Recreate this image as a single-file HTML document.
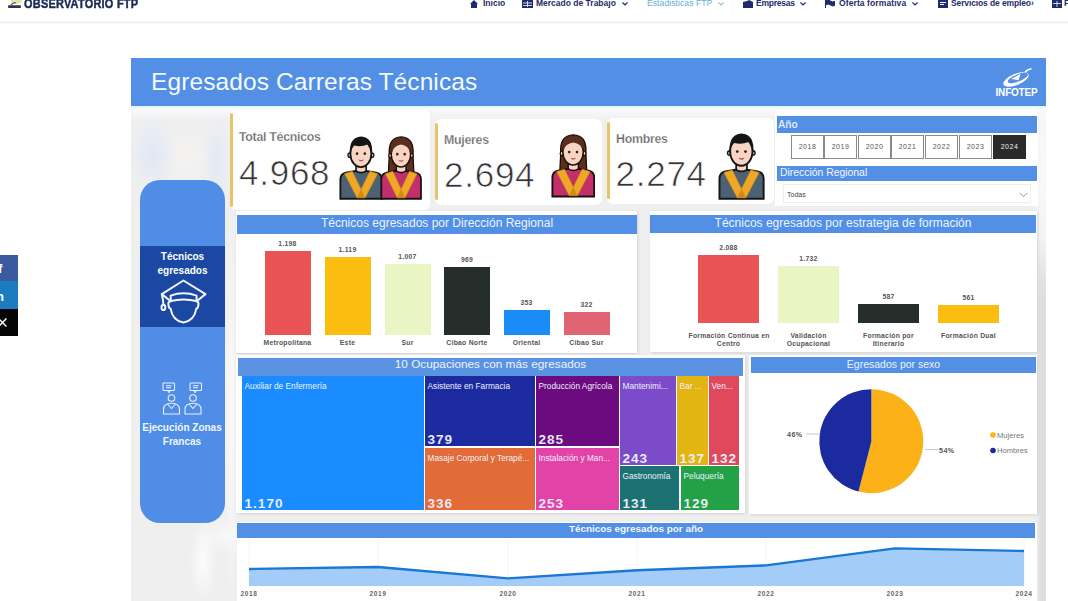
<!DOCTYPE html>
<html><head><meta charset="utf-8">
<style>
*{margin:0;padding:0;box-sizing:border-box}
html,body{width:1068px;height:601px;overflow:hidden;background:#fff;font-family:"Liberation Sans",sans-serif}
.a{position:absolute;line-height:1;white-space:nowrap}
.nav{color:#1f2b6e;font-weight:bold;font-size:8.5px;letter-spacing:0}
.hdr{position:absolute;background:#528fe5;color:#fff;text-align:center;white-space:nowrap;overflow:hidden}
.panel{position:absolute;background:#fff}
.bar{position:absolute}
.bl{position:absolute;font-size:6.8px;font-weight:bold;color:#555;text-align:center;line-height:1;white-space:nowrap;letter-spacing:0.25px}
.tile{position:absolute;overflow:hidden}
.tt{position:absolute;left:2.5px;top:5.5px;font-size:8.3px;color:#eef0ff;white-space:nowrap;line-height:1}
.tv{position:absolute;left:2.5px;bottom:-0.8px;font-size:13.6px;font-weight:bold;color:#eef2ff;line-height:1;letter-spacing:1px}
.yb{position:absolute;top:135px;height:24px;width:33px;border:1px solid #8a8a8a;background:#fff;font-size:7px;color:#555;text-align:center;line-height:22px;letter-spacing:0.5px}
</style></head>
<body>
<svg width="0" height="0" style="position:absolute">
<defs>
<symbol id="man" viewBox="0 0 48 68" preserveAspectRatio="none">
<path d="M1.5 66.5 V46.5 Q1.5 40.5 7.5 39.3 L18 37.5 H29.5 L40.5 39.3 Q46.5 40.5 46.5 46.5 V66.5 Z" fill="#4a6273" stroke="#151515" stroke-width="2"/>
<path d="M6 40.3 L14.5 37.8 L24 56.5 L33.5 37.8 L42 40.3 L28.5 65.5 H19.5 Z" fill="#eea726" stroke="#c98812" stroke-width="0.6"/>
<path d="M19.5 65.5 L24 56.5 L28.5 65.5 Z" fill="#d08a18"/>
<path d="M18.5 30 V37.5 Q24 41 29.5 37.5 V30 Z" fill="#f8d4c4" stroke="#151515" stroke-width="1.8"/>
<circle cx="12" cy="21" r="2.3" fill="#f8d4c4" stroke="#151515" stroke-width="1.4"/>
<circle cx="35.5" cy="21" r="2.3" fill="#f8d4c4" stroke="#151515" stroke-width="1.4"/>
<ellipse cx="23.75" cy="19.5" rx="11.4" ry="14" fill="#f8d4c4" stroke="#151515" stroke-width="2"/>
<path d="M12 20.5 Q10.3 2.5 24 1.5 Q37.7 2.5 35.8 20.5 Q35 12.5 31 10 Q24 13 16.5 11 Q13 13.5 12 20.5 Z" fill="#151515"/>
<circle cx="19.6" cy="19.5" r="1.4" fill="#3a1a10"/><circle cx="28" cy="19.5" r="1.4" fill="#3a1a10"/>
<path d="M21.5 26 Q24 28.2 26.5 26" stroke="#a04848" stroke-width="1" fill="#e37b7b"/>
</symbol>
<symbol id="woman" viewBox="0 0 48 68" preserveAspectRatio="none">
<path d="M10.5 21 Q9 2.5 24 2 Q39 2.5 37.5 21 L38.5 40 H9.5 Z" fill="#5b2f1e" stroke="#1e0c06" stroke-width="1.4"/>
<path d="M1.5 66.5 V46.5 Q1.5 40.5 7.5 39.3 L18 37.5 H29.5 L40.5 39.3 Q46.5 40.5 46.5 46.5 V66.5 Z" fill="#c2306b" stroke="#1a1010" stroke-width="2"/>
<path d="M6 40.3 L14.5 37.8 L24 56.5 L33.5 37.8 L42 40.3 L28.5 65.5 H19.5 Z" fill="#eea726" stroke="#c98812" stroke-width="0.6"/>
<path d="M19.5 65.5 L24 56.5 L28.5 65.5 Z" fill="#d08a18"/>
<path d="M18.5 30 V37.5 Q24 41 29.5 37.5 V30 Z" fill="#f8d4c4" stroke="#1e0c06" stroke-width="1.6"/>
<circle cx="12" cy="21.5" r="2.1" fill="#f8d4c4" stroke="#1e0c06" stroke-width="1.2"/>
<circle cx="35.5" cy="21.5" r="2.1" fill="#f8d4c4" stroke="#1e0c06" stroke-width="1.2"/>
<ellipse cx="23.75" cy="20" rx="11" ry="13.4" fill="#f8d4c4" stroke="#1e0c06" stroke-width="1.6"/>
<path d="M12.8 20 Q12 4.5 24 4 Q36 4.5 34.8 20 Q33 11 24 10 Q15 11 12.8 20 Z" fill="#5b2f1e"/>
<circle cx="19.6" cy="20" r="1.4" fill="#3a1a10"/><circle cx="28" cy="20" r="1.4" fill="#3a1a10"/>
<path d="M21.5 26.5 Q24 28.5 26.5 26.5" stroke="#a04848" stroke-width="1" fill="#e37b7b"/>
</symbol>
</defs></svg>
<!-- NAV -->
<div class="a" style="left:0;top:21px;width:1068px;height:3px;background:linear-gradient(#f6f6f6,#f0f0f0 50%,#f8f8f8)"></div>
<svg class="a" style="left:7px;top:0" width="16" height="9" viewBox="0 0 16 9">
<ellipse cx="9.5" cy="1.2" rx="5.5" ry="2.6" fill="#e6e3a8"/>
<path d="M4 5 Q6 2.5 9 2.8" stroke="#3a4260" stroke-width="1.2" fill="none"/>
<rect x="1" y="5.3" width="13" height="2.6" rx="1" fill="#2c3552"/>
</svg>
<div class="a" style="left:24px;top:-3px;font-size:13px;font-weight:bold;color:#1c2a55;letter-spacing:0.3px;transform:scaleX(0.84);transform-origin:0 0;-webkit-text-stroke:0.5px #1c2a55">OBSERVATORIO FTP</div>

<svg class="a" style="left:470px;top:0" width="8" height="8" viewBox="0 0 8 8"><path d="M0 4 L4 0 L8 4 L7 4 L7 8 L1 8 L1 4Z" fill="#1f2b6e"/></svg>
<div class="a nav" style="left:483px;top:-0.9px">Inicio</div>
<svg class="a" style="left:522px;top:0" width="11" height="8" viewBox="0 0 11 8"><rect x="0" y="0" width="11" height="8" fill="#1f2b6e"/><path d="M1 3H10M1 5.5H10M5.5 1V7" stroke="#fff" stroke-width="0.8"/></svg>
<div class="a nav" style="left:536px;top:-0.9px;letter-spacing:0">Mercado de Trabajo</div>
<svg class="a" style="left:622px;top:1.5px" width="6" height="4" viewBox="0 0 6 4"><path d="M0.5 0.5L3 3L5.5 0.5" stroke="#1f2b6e" stroke-width="1.2" fill="none"/></svg>
<div class="a nav" style="left:647px;top:-0.9px;color:#5fb0d6;font-weight:normal;letter-spacing:0.1px">Estadisticas FTP</div>
<svg class="a" style="left:718px;top:1.5px" width="6" height="4" viewBox="0 0 6 4"><path d="M0.5 0.5L3 3L5.5 0.5" stroke="#8cc4e0" stroke-width="1.2" fill="none"/></svg>
<svg class="a" style="left:743px;top:0" width="10" height="8" viewBox="0 0 10 8"><path d="M0 2 L4 1 L6 0 L10 2 L10 8 L0 8Z" fill="#1f2b6e"/></svg>
<div class="a nav" style="left:756px;top:-0.9px;letter-spacing:-0.22px">Empresas</div>
<svg class="a" style="left:800px;top:1.5px" width="6" height="4" viewBox="0 0 6 4"><path d="M0.5 0.5L3 3L5.5 0.5" stroke="#1f2b6e" stroke-width="1.2" fill="none"/></svg>
<svg class="a" style="left:825px;top:0" width="10" height="8" viewBox="0 0 10 8"><path d="M0.5 0V8M1 0.5 Q4 -0.5 5.5 1 Q7 2.5 10 1.5 V5.5 Q7 6.5 5.5 5 Q4 3.5 1 4.5Z" stroke="#1f2b6e" fill="#1f2b6e"/></svg>
<div class="a nav" style="left:839px;top:-0.9px;letter-spacing:0.1px">Oferta formativa</div>
<svg class="a" style="left:912px;top:1.5px" width="6" height="4" viewBox="0 0 6 4"><path d="M0.5 0.5L3 3L5.5 0.5" stroke="#1f2b6e" stroke-width="1.2" fill="none"/></svg>
<svg class="a" style="left:938px;top:0" width="10" height="8" viewBox="0 0 10 8"><rect x="0" y="0" width="10" height="8" fill="#1f2b6e"/><rect x="2" y="2" width="6" height="1" fill="#fff"/><rect x="2" y="4" width="4" height="1" fill="#fff"/></svg>
<div class="a nav" style="left:951px;top:-0.9px;letter-spacing:-0.12px">Servicios de empleo›</div>
<svg class="a" style="left:1052px;top:0" width="10" height="8" viewBox="0 0 10 8"><rect x="0" y="0" width="10" height="8" fill="#1f2b6e"/><path d="M1 3.5H9M5 1V7" stroke="#fff" stroke-width="0.8"/></svg>
<div class="a nav" style="left:1064px;top:-0.9px">F</div>

<!-- SOCIAL -->
<div class="a" style="left:0;top:255px;width:18px;height:26px;background:#3b5aa0"></div>
<div class="a" style="left:0;top:281px;width:18px;height:28px;background:#1b7dc0"></div>
<div class="a" style="left:0;top:309px;width:18px;height:27px;background:#050505"></div>
<div class="a" style="left:-2px;top:262px;font-size:13px;font-weight:bold;color:#fff">f</div>
<div class="a" style="left:-7.5px;top:290px;font-size:13px;font-weight:bold;color:#fff">in</div>
<svg class="a" style="left:-2px;top:318px" width="9" height="9" viewBox="0 0 9 9"><path d="M0.5 0.5 L8.5 8.5 M8.5 0.5 L0.5 8.5" stroke="#fff" stroke-width="1.5"/></svg>

<!-- DASHBOARD BG -->
<div class="a" id="dash" style="left:131px;top:106px;width:915px;height:495px;background:
radial-gradient(ellipse 25px 40px at 22px 48px,rgba(222,231,245,0.9),rgba(222,231,245,0)),
radial-gradient(ellipse 15px 45px at 86px 55px,rgba(224,233,246,0.9),rgba(224,233,246,0)),
radial-gradient(ellipse 35px 25px at 55px 50px,rgba(245,243,240,1),rgba(245,243,240,0)),
radial-gradient(ellipse 14px 120px at 912px 60px,rgba(250,250,250,1),rgba(250,250,250,0)),
radial-gradient(ellipse 14px 40px at 72px 455px,rgba(252,252,252,1),rgba(252,252,252,0)),
radial-gradient(ellipse 30px 20px at 95px 430px,rgba(248,248,248,1),rgba(248,248,248,0)),
radial-gradient(ellipse 8px 200px at 100px 300px,rgba(250,250,250,1),rgba(250,250,250,0)),
#efeff0"></div>
<div class="hdr" style="left:131px;top:58px;width:915px;height:48px"></div>
<div class="a" style="left:1037px;top:240px;width:9px;height:361px;background:linear-gradient(to right,#ebebeb,#dadada 55%,#e0e0e0);-webkit-mask-image:linear-gradient(transparent,#000 60px)"></div>
<div class="a" style="left:131px;top:106px;width:915px;height:3px;background:linear-gradient(#dff4fb,#f4fbfd)"></div>
<div class="a" style="left:131px;top:109px;width:915px;height:12px;background:linear-gradient(#f8f9fa,rgba(248,249,250,0))"></div>
<div class="a" style="left:151px;top:70px;font-size:24.5px;color:#f4faff;letter-spacing:0.1px">Egresados Carreras Técnicas</div>



<svg class="a" style="left:993px;top:67px" width="48" height="30" viewBox="0 0 48 30">
<ellipse cx="23" cy="12.5" rx="13.5" ry="5.6" transform="rotate(-22 23 12.5)" fill="#fff"/>
<ellipse cx="24.8" cy="11" rx="10.8" ry="3.6" transform="rotate(-22 24.8 11)" fill="#528fe5"/>
<path d="M18 12 L27.5 7 L25.5 13.2 Z" fill="#fff"/>
<path d="M32 5 Q36 1.5 38.5 2" stroke="#fff" stroke-width="1.6" fill="none"/>
<text x="23.5" y="28.5" text-anchor="middle" font-family="Liberation Sans" font-weight="bold" font-size="10" fill="#fff" letter-spacing="-0.2">INFOTEP</text>
</svg>

<!-- SIDEBAR -->
<div class="a" style="left:140px;top:180px;width:85px;height:343px;background:#4f8de6;border-radius:20px"></div>
<div class="a" style="left:140px;top:246px;width:85px;height:81px;background:#1a48a2"></div>
<div class="a" style="left:140px;top:250px;width:85px;text-align:center;font-size:10px;font-weight:bold;color:#fff;line-height:14px">Técnicos<br>egresados</div>
<svg class="a" style="left:155px;top:275px" width="57" height="51" viewBox="0 0 57 51" fill="none" stroke="#f2f6ff" stroke-width="2" stroke-linejoin="round" stroke-linecap="round">
<path d="M15.7 26.3 L6.8 19.1 L28.4 5.5 L50.5 19.1 L41.6 26.3"/>
<path d="M15.7 26 V20.6 Q28.4 15.8 41.6 20.6 V26 Q28.4 22.8 15.7 26 Z"/>
<path d="M15.7 26.2 Q12.8 26.8 13.4 29.6 Q13.8 33.6 15.6 33.6 Q17.5 45.5 28.4 47.6 Q39.5 45.5 41.3 33.6 Q43.1 33.6 43.4 29.6 Q44 26.8 41.6 26.2"/>
<path d="M6.8 19.2 Q8.2 24.5 8.4 29.5"/>
<ellipse cx="8.4" cy="32.4" rx="1.9" ry="2.6"/>
</svg>
<svg class="a" style="left:160px;top:382px" width="44" height="34" viewBox="0 0 44 34" fill="none" stroke="#e8f0ff" stroke-width="1.1">
<rect x="3" y="1" width="11.5" height="7.5" rx="0.8"/><path d="M6 3.8H11.5M6 5.8H11"/><path d="M7.5 8.5 L9 10.5 L10.5 8.5"/>
<rect x="30" y="1" width="11.5" height="7.5" rx="0.8"/><path d="M33 3.8H38.5M33 5.8H38"/><path d="M33.5 8.5 L35 10.5 L36.5 8.5"/>
<circle cx="11.5" cy="16" r="3.3"/><path d="M3.5 32 V27.5 Q3.5 21.3 11.5 21.3 Q19.5 21.3 19.5 27.5 V32 Z"/><path d="M7.5 22 L11.5 26.5 L15.5 22"/>
<circle cx="33" cy="16" r="3.3"/><path d="M25 32 V27.5 Q25 21.3 33 21.3 Q41 21.3 41 27.5 V32 Z"/><path d="M29 22 L33 26.5 L37 22"/>
</svg>
<div class="a" style="left:139.5px;top:421px;width:85px;text-align:center;font-size:10px;font-weight:bold;color:#f0f6ff;line-height:13.5px;letter-spacing:0">Ejecución Zonas<br>Francas</div>

<!-- KPI CARDS -->
<div class="panel" style="left:230px;top:110px;width:200px;height:100px;border-radius:6px"></div>
<div class="a" style="left:230px;top:113px;width:3px;height:94px;background:#e7c46a;border-radius:2px"></div>
<div class="a" style="left:239px;top:131.2px;font-size:12.4px;letter-spacing:-0.3px;font-weight:bold;color:#666;-webkit-text-stroke:0.25px #fff">Total Técnicos</div>
<div class="a" style="left:239px;top:155.3px;font-size:35px;color:#333;letter-spacing:0.75px;-webkit-text-stroke:0.7px #fff">4.968</div>

<div class="panel" style="left:435px;top:119px;width:167px;height:86px;border-radius:6px"></div>
<div class="a" style="left:435px;top:123px;width:3px;height:77px;background:#e7c46a;border-radius:2px"></div>
<div class="a" style="left:444px;top:133.7px;font-size:12.4px;letter-spacing:-0.3px;font-weight:bold;color:#666;-webkit-text-stroke:0.25px #fff">Mujeres</div>
<div class="a" style="left:444px;top:157px;font-size:35px;color:#333;letter-spacing:0.75px;-webkit-text-stroke:0.7px #fff">2.694</div>

<div class="panel" style="left:607px;top:118px;width:167px;height:86px;border-radius:6px"></div>
<div class="a" style="left:607px;top:122px;width:3px;height:77px;background:#e7c46a;border-radius:2px"></div>
<div class="a" style="left:616px;top:132.6px;font-size:12.4px;letter-spacing:-0.3px;font-weight:bold;color:#666;-webkit-text-stroke:0.25px #fff">Hombres</div>
<div class="a" style="left:615.5px;top:156.3px;font-size:35px;color:#333;letter-spacing:0.75px;-webkit-text-stroke:0.7px #fff">2.274</div>


<!-- PEOPLE ICONS -->
<svg class="a" style="left:339px;top:134.6px" width="44.2" height="65.2"><use href="#man" width="44.2" height="65.2"/></svg>
<svg class="a" style="left:379.6px;top:134.6px" width="42.3" height="65.2"><use href="#woman" width="42.3" height="65.2"/></svg>
<svg class="a" style="left:550.8px;top:133.4px" width="44.6" height="65"><use href="#woman" width="44.6" height="65"/></svg>
<svg class="a" style="left:718px;top:132.2px" width="47.1" height="68.3"><use href="#man" width="47.1" height="68.3"/></svg>

<!-- FILTERS -->
<div class="panel" style="left:775px;top:110px;width:263px;height:96px"></div>
<div class="hdr" style="left:777px;top:116px;width:260px;height:17px;text-align:left"></div>
<div class="a" style="left:778px;top:119.6px;font-size:10.2px;font-weight:bold;color:#eef6ff;-webkit-text-stroke:0.2px #528fe5">Año</div>
<div class="yb" style="left:791px">2018</div>
<div class="yb" style="left:824px">2019</div>
<div class="yb" style="left:858px">2020</div>
<div class="yb" style="left:891px">2021</div>
<div class="yb" style="left:925px">2022</div>
<div class="yb" style="left:959px">2023</div>
<div class="yb" style="left:993px;background:#2a2a2a;border-color:#2a2a2a;color:#eee">2024</div>
<div class="hdr" style="left:777px;top:166px;width:260px;height:15px"></div>
<div class="a" style="left:780px;top:168px;font-size:10.4px;color:#f4f8ff">Dirección Regional</div>
<div class="a" style="left:783px;top:184px;width:248px;height:19px;border:1px solid #eee;background:#fff"></div>
<div class="a" style="left:787px;top:191px;font-size:7px;color:#444">Todas</div>
<svg class="a" style="left:1019px;top:192px" width="9" height="6" viewBox="0 0 9 6"><path d="M0.5 0.8L4.5 4.8L8.5 0.8" stroke="#999" stroke-width="1" fill="none"/></svg>

<!-- CHART 1 -->
<div class="panel" style="left:235.5px;top:210.5px;width:401.5px;height:142.5px;box-shadow:1px 1px 3px rgba(0,0,0,0.12)"></div>
<div class="hdr" style="left:237px;top:215px;width:400px;height:18.5px;font-size:12px;line-height:17px;color:#eaf4ff">Técnicos egresados por Dirección Regional</div>
<div class="bar" style="left:264.5px;top:251.0px;width:46px;height:84.0px;background:#e85454"></div>
<div class="bl" style="left:257.5px;width:60px;top:241.0px">1.198</div>
<div class="bl" style="left:257.5px;width:60px;top:340px">Metropolitana</div>
<div class="bar" style="left:324.5px;top:256.6px;width:46px;height:78.4px;background:#fbbd10"></div>
<div class="bl" style="left:317.5px;width:60px;top:246.6px">1.119</div>
<div class="bl" style="left:317.5px;width:60px;top:340px">Este</div>
<div class="bar" style="left:384.5px;top:264.4px;width:46px;height:70.6px;background:#e9f5c2"></div>
<div class="bl" style="left:377.5px;width:60px;top:254.4px">1.007</div>
<div class="bl" style="left:377.5px;width:60px;top:340px">Sur</div>
<div class="bar" style="left:444px;top:267.1px;width:46px;height:67.9px;background:#262e2c"></div>
<div class="bl" style="left:437px;width:60px;top:257.1px">969</div>
<div class="bl" style="left:437px;width:60px;top:340px">Cibao Norte</div>
<div class="bar" style="left:503.5px;top:310.3px;width:46px;height:24.7px;background:#1a8cf5"></div>
<div class="bl" style="left:496.5px;width:60px;top:300.3px">353</div>
<div class="bl" style="left:496.5px;width:60px;top:340px">Oriental</div>
<div class="bar" style="left:563.5px;top:312.4px;width:46px;height:22.6px;background:#e06473"></div>
<div class="bl" style="left:556.5px;width:60px;top:302.4px">322</div>
<div class="bl" style="left:556.5px;width:60px;top:340px">Cibao Sur</div>

<!-- CHART 2 -->
<div class="panel" style="left:650px;top:210.5px;width:387px;height:141.5px;box-shadow:1px 1px 3px rgba(0,0,0,0.12)"></div>
<div class="hdr" style="left:650px;top:215px;width:386px;height:18px;font-size:12px;line-height:17px;color:#eaf4ff">Técnicos egresados por estrategia de formación</div>
<div class="bar" style="left:698.0px;top:254.7px;width:61px;height:68.5px;background:#e85454"></div>
<div class="bl" style="left:688.5px;width:80px;top:244.7px">2.088</div>
<div class="bl" style="left:688.5px;width:80px;top:331.5px;line-height:8.8px">Formación Continua en<br>Centro</div>
<div class="bar" style="left:778.0px;top:266.4px;width:61px;height:56.8px;background:#e9f5c2"></div>
<div class="bl" style="left:768.5px;width:80px;top:256.4px">1.732</div>
<div class="bl" style="left:768.5px;width:80px;top:331.5px;line-height:8.8px">Validación<br>Ocupacional</div>
<div class="bar" style="left:858.0px;top:303.9px;width:61px;height:19.3px;background:#262e2c"></div>
<div class="bl" style="left:848.5px;width:80px;top:293.9px">587</div>
<div class="bl" style="left:848.5px;width:80px;top:331.5px;line-height:8.8px">Formación por<br>Itinerario</div>
<div class="bar" style="left:938.0px;top:304.8px;width:61px;height:18.4px;background:#fbbd10"></div>
<div class="bl" style="left:928.5px;width:80px;top:294.8px">561</div>
<div class="bl" style="left:928.5px;width:80px;top:331.5px;line-height:8.8px">Formación Dual</div>

<!-- TREEMAP -->
<div class="panel" style="left:236px;top:355px;width:508.5px;height:157.5px;box-shadow:1px 1px 3px rgba(0,0,0,0.12)"></div>
<div class="hdr" style="left:238px;top:357.5px;width:505px;height:18.5px;font-size:11.8px;line-height:12.5px;background:#5b93e3;color:#eaf4ff">10 Ocupaciones con más egresados</div>
<div class="tile" style="left:242px;top:376px;width:182px;height:134px;background:#1a8cff"><div class="tt">Auxiliar de Enfermería</div><div class="tv" style="-webkit-text-stroke:0.12px #1a8cff">1.170</div></div>
<div class="tile" style="left:425px;top:376px;width:110px;height:70px;background:#1b2a9e"><div class="tt">Asistente en Farmacia</div><div class="tv" style="-webkit-text-stroke:0.12px #1b2a9e">379</div></div>
<div class="tile" style="left:536px;top:376px;width:83px;height:70px;background:#6b0b7f"><div class="tt">Producción Agrícola</div><div class="tv" style="-webkit-text-stroke:0.12px #6b0b7f">285</div></div>
<div class="tile" style="left:425px;top:448px;width:110px;height:62px;background:#e36b38"><div class="tt">Masaje Corporal y Terapé...</div><div class="tv" style="-webkit-text-stroke:0.12px #e36b38">336</div></div>
<div class="tile" style="left:536px;top:448px;width:83px;height:62px;background:#e243a6"><div class="tt">Instalación y Man...</div><div class="tv" style="-webkit-text-stroke:0.12px #e243a6">253</div></div>
<div class="tile" style="left:620px;top:376px;width:56px;height:89px;background:#7b4bc9"><div class="tt">Mantenimi...</div><div class="tv" style="-webkit-text-stroke:0.12px #7b4bc9">243</div></div>
<div class="tile" style="left:677px;top:376px;width:31px;height:89px;background:#e2b512"><div class="tt">Bar ...</div><div class="tv" style="-webkit-text-stroke:0.12px #e2b512">137</div></div>
<div class="tile" style="left:709px;top:376px;width:30px;height:89px;background:#e0495b"><div class="tt">Ven...</div><div class="tv" style="-webkit-text-stroke:0.12px #e0495b">132</div></div>
<div class="tile" style="left:620px;top:466px;width:59px;height:44px;background:#1c7272"><div class="tt">Gastronomía</div><div class="tv" style="-webkit-text-stroke:0.12px #1c7272">131</div></div>
<div class="tile" style="left:681px;top:466px;width:58px;height:44px;background:#22a146"><div class="tt">Peluquería</div><div class="tv" style="-webkit-text-stroke:0.12px #22a146">129</div></div>

<!-- PIE -->
<div class="panel" style="left:749px;top:355px;width:288px;height:159px;box-shadow:1px 1px 3px rgba(0,0,0,0.12)"></div>
<div class="hdr" style="left:751px;top:357px;width:285px;height:15.5px;font-size:10.5px;line-height:15px;color:#eaf4ff">Egresados por sexo</div>
<svg class="a" style="left:749px;top:353px" width="288" height="161" viewBox="749 353 288 161">
<path d="M871.4 441.2 L871.4 389.2 A52 52 0 1 1 858.5 491.6 Z" fill="#fbb117"/>
<path d="M871.4 441.2 L858.5 491.6 A52 52 0 0 1 871.4 389.2 Z" fill="#1b2a9e"/>
<path d="M806 434 H819" stroke="#bbb" stroke-width="0.8"/>
<path d="M925 449.6 H938" stroke="#bbb" stroke-width="0.8"/>
<circle cx="993" cy="435" r="2.8" fill="#fbb117"/>
<circle cx="993" cy="450.5" r="2.8" fill="#1b2a9e"/>
</svg>
<div class="bl" style="left:787px;top:431px;font-size:7px;letter-spacing:0.5px">46%</div>
<div class="bl" style="left:939px;top:447px;font-size:7px;letter-spacing:0.5px">54%</div>
<div class="a" style="left:997px;top:431.5px;font-size:7.6px;color:#777">Mujeres</div>
<div class="a" style="left:997px;top:446.5px;font-size:7.6px;color:#777">Hombres</div>

<!-- LINE -->
<div class="panel" style="left:237px;top:522px;width:800px;height:79px"></div>
<div class="hdr" style="left:237px;top:522.5px;width:798px;height:15.5px;font-size:9.9px;line-height:11.5px;font-weight:bold;color:#f4f8ff">Técnicos egresados por año</div>
<svg class="a" style="left:237px;top:538px" width="800" height="63" viewBox="237 538 800 63">
<path d="M249 539V586M378 539V586M508 539V586M637 539V586M766 539V586M895 539V586M1024 539V586" stroke="#f2f2f2" stroke-width="1"/>
<path d="M249 569 L378 567 L508 578.4 L637 570.3 L766 565.4 L895 548.4 L1024 551 L1024 586 L249 586Z" fill="#a3cdf8"/>
<path d="M249 569 L378 567 L508 578.4 L637 570.3 L766 565.4 L895 548.4 L1024 551" fill="none" stroke="#1b78d2" stroke-width="2.4" stroke-linejoin="round"/>
</svg>
<div class="bl" style="left:229px;width:40px;top:591px;font-size:6.5px;letter-spacing:0.6px;color:#666">2018</div>
<div class="bl" style="left:358px;width:40px;top:591px;font-size:6.5px;letter-spacing:0.6px;color:#666">2019</div>
<div class="bl" style="left:488px;width:40px;top:591px;font-size:6.5px;letter-spacing:0.6px;color:#666">2020</div>
<div class="bl" style="left:617px;width:40px;top:591px;font-size:6.5px;letter-spacing:0.6px;color:#666">2021</div>
<div class="bl" style="left:746px;width:40px;top:591px;font-size:6.5px;letter-spacing:0.6px;color:#666">2022</div>
<div class="bl" style="left:875px;width:40px;top:591px;font-size:6.5px;letter-spacing:0.6px;color:#666">2023</div>
<div class="bl" style="left:1004px;width:40px;top:591px;font-size:6.5px;letter-spacing:0.6px;color:#666">2024</div>
</body></html>
